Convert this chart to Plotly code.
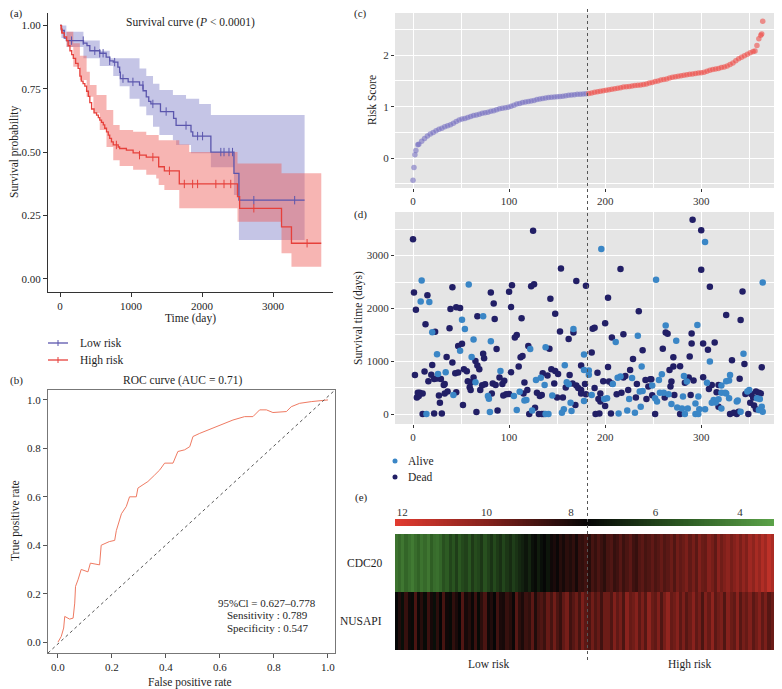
import numpy as np
import plotly.graph_objects as go

W, H = 782, 689
OFF = 8  # the page body has an 8px margin, so the figure is drawn from (8, 8)
FW, FH = W - OFF, H - OFF
FONT = "Liberation Serif"
INK = "#1e1e1e"

# ---------------- (a) Kaplan-Meier curves ----------------
km_low_time = [0, 20, 60, 90, 330, 380, 420, 560, 650, 700, 750, 815, 840, 850, 960,
               1120, 1170, 1215, 1250, 1280, 1415, 1600, 1635, 1845, 1870, 2125, 2450, 2520, 3445]
km_low_surv = [1.0, 0.98, 0.95, 0.94, 0.93, 0.92, 0.90, 0.89, 0.875, 0.86, 0.855, 0.835, 0.815, 0.79, 0.777,
               0.764, 0.742, 0.718, 0.70, 0.69, 0.66, 0.633, 0.605, 0.58, 0.563, 0.50, 0.416, 0.31, 0.31]
km_low_up_time = [0, 90, 330, 560, 700, 1120, 1215, 1310, 1400, 1590, 1775, 1960, 2125, 3445]
km_low_up = [1.0, 0.975, 0.94, 0.90, 0.87, 0.83, 0.80, 0.77, 0.745, 0.725, 0.71, 0.69, 0.646, 0.646]
km_low_lo_time = [0, 20, 93, 330, 560, 750, 840, 980, 1120, 1215, 1310, 1400, 1590, 1635, 1845,
                  2125, 2450, 2520, 3445]
km_low_lo = [1.0, 0.95, 0.915, 0.87, 0.84, 0.80, 0.76, 0.71, 0.68, 0.645, 0.60, 0.567, 0.547, 0.528, 0.495,
             0.44, 0.33, 0.153, 0.153]

km_high_time = [0, 15, 30, 60, 93, 115, 140, 165, 187, 220, 255, 280, 300, 325, 350, 375, 400, 420, 445,
                480, 515, 540, 560, 585, 610, 630, 655, 680, 700, 725, 750, 820, 840, 935, 1030, 1120,
                1215, 1390, 1470, 1680, 2500, 2530, 3120, 3260, 3680]
km_high_surv = [1.0, 0.985, 0.97, 0.955, 0.94, 0.92, 0.90, 0.885, 0.87, 0.85, 0.83, 0.80, 0.78, 0.77, 0.76,
                0.74, 0.72, 0.695, 0.67, 0.655, 0.646, 0.636, 0.626, 0.617, 0.607, 0.594, 0.58, 0.567,
                0.554, 0.54, 0.528, 0.52, 0.514, 0.508, 0.497, 0.488, 0.48, 0.442, 0.426, 0.374, 0.324,
                0.278, 0.205, 0.14, 0.14]
km_high_up_time = [0, 93, 187, 280, 375, 420, 515, 655, 750, 840, 1030, 1215, 1390, 1680, 1820, 2500, 3120, 3680]
km_high_up = [1.0, 0.975, 0.93, 0.88, 0.817, 0.765, 0.725, 0.666, 0.607, 0.587, 0.58, 0.567, 0.547, 0.53,
              0.50, 0.455, 0.416, 0.416]
km_high_lo_time = [0, 93, 187, 280, 375, 470, 560, 655, 750, 840, 1030, 1215, 1355, 1390, 1470, 1680,
                   2500, 3120, 3260, 3680]
km_high_lo = [1.0, 0.915, 0.837, 0.784, 0.718, 0.653, 0.587, 0.52, 0.468, 0.445, 0.43, 0.41, 0.396, 0.37,
              0.35, 0.278, 0.225, 0.10, 0.047, 0.047]

cens_low_time = [163, 327, 490, 560, 607, 700, 770, 887, 1027, 1168, 1308, 1495, 1775, 1938, 2008,
                 2265, 2310, 2380, 2430, 2730, 3305]
cens_low_surv = [0.94, 0.94, 0.90, 0.89, 0.89, 0.86, 0.855, 0.79, 0.777, 0.764, 0.69, 0.66, 0.605, 0.563,
                 0.563, 0.50, 0.50, 0.50, 0.50, 0.31, 0.31]
cens_high_time = [23, 794, 1120, 1308, 1541, 1751, 1868, 1938, 2195, 2310, 2405, 2730, 3480]
cens_high_surv = [0.985, 0.528, 0.488, 0.48, 0.426, 0.374, 0.374, 0.374, 0.374, 0.374, 0.374, 0.278, 0.14]

# ---------------- (b) ROC ----------------
roc_fpr = [0.0, 0.012, 0.021, 0.025, 0.043, 0.056, 0.062, 0.065, 0.074, 0.086, 0.111, 0.12, 0.154, 0.16,
           0.19, 0.21, 0.216, 0.235, 0.253, 0.265, 0.29, 0.296, 0.315, 0.333, 0.358, 0.377, 0.395, 0.426,
           0.444, 0.469, 0.488, 0.50, 0.525, 0.556, 0.586, 0.623, 0.648, 0.691, 0.722, 0.747, 0.772,
           0.796, 0.846, 0.864, 0.895, 0.938, 0.988, 1.0]
roc_tpr = [0.0, 0.023, 0.058, 0.106, 0.095, 0.099, 0.161, 0.23, 0.257, 0.30, 0.29, 0.326, 0.319, 0.40,
           0.415, 0.42, 0.46, 0.53, 0.56, 0.60, 0.60, 0.636, 0.65, 0.663, 0.69, 0.711, 0.739, 0.739,
           0.787, 0.794, 0.807, 0.849, 0.862, 0.876, 0.89, 0.904, 0.917, 0.931, 0.931, 0.959, 0.959,
           0.948, 0.952, 0.972, 0.986, 0.993, 1.0, 1.0]

# ---------------- (c) risk score ----------------
risk_cut = 182
risk_rank = [0, 1, 2, 3, 5] + list(range(6, 349, 3)) + [351, 354, 356, 358, 360, 362, 363, 364]
risk_score = [-0.43, -0.18, 0.065, 0.15, 0.26,
              0.27, 0.33, 0.38, 0.43, 0.47, 0.50, 0.53, 0.56, 0.58, 0.61,
              0.63, 0.65, 0.68, 0.71, 0.74, 0.76, 0.77, 0.79, 0.81, 0.83,
              0.84, 0.855, 0.87, 0.88, 0.89, 0.91, 0.92, 0.94, 0.96, 0.97,
              0.98, 0.99, 1.01, 1.03, 1.05, 1.06, 1.08, 1.09, 1.10, 1.11,
              1.12, 1.14, 1.15, 1.16, 1.17, 1.18, 1.185, 1.19, 1.195, 1.20,
              1.205, 1.21, 1.22, 1.225, 1.23, 1.24, 1.24, 1.245, 1.25, 1.255,
              1.265, 1.28, 1.29, 1.30, 1.31, 1.32, 1.33, 1.34, 1.35, 1.36,
              1.37, 1.38, 1.385, 1.39, 1.40, 1.41, 1.415, 1.42, 1.43, 1.44,
              1.46, 1.47, 1.49, 1.50, 1.52, 1.53, 1.54, 1.555, 1.57, 1.58,
              1.59, 1.60, 1.61, 1.62, 1.63, 1.635, 1.645, 1.655, 1.66, 1.67,
              1.69, 1.71, 1.72, 1.73, 1.74, 1.76, 1.77, 1.79, 1.82, 1.85,
              1.89, 1.93, 1.96, 1.99, 2.02,
              2.05, 2.07, 2.08, 2.19, 2.32, 2.39, 2.41, 2.66]

# ---------------- (d) survival time by patient rank ----------------
dead_rank = [0, 1, 15, 3, 41, 13, 23, 39, 45, 49, 38, 67, 81, 84, 85, 100, 103, 102, 113, 47,
             51, 87, 106, 108, 35, 41, 20, 65, 73, 74, 67, 69, 2, 12, 16, 19, 22, 25, 29, 32,
             33, 44, 47, 53, 56, 63, 57, 60, 59, 60, 70, 72, 75, 83, 86, 90, 93, 95, 102, 110,
             112, 114, 116, 5, 7, 10, 4, 6, 27, 33, 36, 28, 45, 52, 82, 94, 97, 100, 115, 10,
             22, 30, 66, 88,
             125, 154, 216, 170, 180, 123, 126, 143, 203, 148, 235, 200, 187, 189, 153, 167, 162, 207, 219, 120,
             142, 186, 239, 229, 175, 203, 144, 135, 148, 151, 140, 163, 192, 226, 219, 221, 242, 247, 147, 166,
             159, 170, 172, 175, 179, 189, 198, 204, 207, 212, 233, 245, 119, 129, 132, 134, 150, 156, 175, 180,
             195, 193, 195, 217, 224, 232, 243, 169, 200, 127, 121, 131, 134, 136, 190, 194, 206,
             291, 300, 300, 309, 343, 326, 341, 263, 265, 290, 290, 302, 314, 260, 307, 271, 288, 332, 345, 363,
             271, 278, 267, 248, 269, 287, 292, 302, 283, 311, 308, 318, 340, 268, 249, 262, 272, 289, 316, 346,
             352, 354, 351, 357, 360, 362, 355, 357, 278, 252, 318, 330, 334, 337, 339, 349]
dead_days = [3310, 2300, 2250, 1975, 2400, 1700, 1560, 1990, 2020, 2010, 1625, 1850, 2300, 2095, 1800, 2315, 2440, 2025, 1815, 1290,
             1330, 1230, 1450, 1495, 1080, 975, 930, 1005, 1140, 1055, 920, 850, 740, 805, 620, 745, 665, 675, 665, 550,
             570, 770, 785, 850, 810, 690, 620, 595, 505, 455, 455, 545, 565, 580, 550, 690, 570, 630, 790, 900,
             1075, 1100, 595, 405, 405, 390, 315, 340, 350, 390, 425, 215, 410, 170, 390, 350, 375, 380, 390, 0,
             10, 10, 40, 65,
             3470, 2755, 2745, 2520, 2430, 2420, 2460, 2185, 2200, 1900, 1945, 1720, 1615, 1635, 1565, 1545, 1420, 1450, 1510, 1290,
             1235, 1165, 1210, 1040, 920, 890, 850, 770, 815, 760, 730, 740, 780, 835, 690, 720, 645, 660, 580, 580,
             500, 540, 495, 455, 570, 495, 620, 615, 580, 375, 570, 520, 455, 405, 340, 360, 315, 315, 390, 375,
             390, 285, 235, 405, 455, 315, 285, 170, 150, 120, 0, 0, 0, 0, 0, 10, 10,
             3680, 3480, 2730, 2410, 2320, 1875, 1780, 1545, 1520, 1525, 1335, 1335, 1355, 1235, 1215, 1075, 1090, 1020, 945, 885,
             900, 905, 835, 660, 615, 690, 635, 695, 590, 550, 475, 550, 670, 520, 355, 315, 360, 360, 410, 380,
             380, 315, 215, 425, 405, 390, 160, 90, 0, 0, 140, 0, 25, 0, 45, 0]
alive_rank = [9, 8, 17, 58, 51, 54, 20, 73, 63, 49, 81, 25, 61, 26, 34, 65, 91, 42, 78, 79,
              105, 111, 116, 14, 80, 108,
              196, 167, 211, 234, 122, 138, 178, 158, 238, 133, 128, 178, 183, 183, 213, 216, 228, 137, 160, 162,
              208, 236, 239, 145, 186, 199, 202, 225, 118, 164, 178, 124, 157, 155, 165, 138, 141, 214, 223, 231,
              237,
              304, 253, 364, 263, 296, 274, 344, 309, 259, 256, 249, 282, 285, 306, 321, 326, 329, 330, 252, 254,
              257, 261, 266, 281, 297, 321, 325, 326, 313, 315, 318, 311, 329, 337, 338, 348, 350, 358, 361, 363,
              364, 360, 269, 275, 280, 286, 294, 298, 304, 283, 294, 297, 321, 341]
alive_days = [2530, 2130, 2120, 2455, 1785, 1610, 1550, 1850, 1410, 1200, 1380, 1130, 1080, 760, 790, 600, 815, 360, 340, 290,
              340, 420, 255, 0, 40, 75,
              3125, 1610, 1365, 1480, 1230, 1265, 1125, 925, 900, 685, 645, 835, 825, 745, 685, 710, 680, 550, 600, 565,
              570, 425, 435, 350, 360, 285, 300, 285, 265, 215, 245, 65, 90, 25, 55, 0, 0, 10, 65, 25,
              140,
              3260, 2545, 2490, 1675, 1685, 1390, 1140, 995, 755, 645, 540, 720, 615, 590, 540, 620, 635, 740, 300, 235,
              405, 405, 375, 330, 330, 405, 405, 390, 265, 220, 280, 215, 300, 235, 255, 425, 455, 300, 285, 140,
              45, 75, 190, 125, 105, 105, 200, 90, 90, 0, 0, 0, 105, 45]

# ---------------- (e) expression heatmap ----------------
cdc20_expr = [4.6, 4.9, 4.5, 5.0, 4.7, 4.4, 4.8, 5.1, 4.6, 4.9, 4.5, 5.2, 4.8, 4.7, 5.0,
              5.6, 5.3, 5.9, 5.5, 6.1, 5.4, 5.8, 6.0, 5.5, 6.2, 5.7, 5.9, 6.3, 5.6, 6.0, 6.4, 5.8, 6.2, 6.5, 5.9,
              6.3, 6.6, 6.1, 6.4, 6.7,
              6.9, 7.2, 6.8, 7.3, 7.5, 7.0, 7.4, 7.6, 7.2,
              7.8, 8.0, 7.7, 8.2, 7.9, 8.3, 8.1, 8.4, 7.9, 8.5,
              8.4, 8.7, 8.2, 8.8, 8.5, 8.9, 8.6, 8.3, 8.8, 9.0, 8.5, 8.7, 9.1, 8.6, 8.9, 9.2, 8.7, 8.5, 9.0, 9.2,
              8.8, 9.0, 9.3, 8.9, 9.1, 9.4, 9.0,
              9.2, 9.5, 9.0, 9.6, 9.3, 9.5, 9.8, 9.3, 9.7, 9.2, 9.9, 9.5, 9.4, 10.0, 9.7, 9.3, 10.1, 9.6,
              9.9, 10.2, 9.7, 10.0, 10.3, 9.8,
              10.3, 9.9, 10.6, 10.2, 10.8, 10.4, 11.0, 10.6, 11.3, 10.9, 11.6, 11.2]
nusapi_expr = [7.6, 8.1, 7.4, 8.5, 7.8, 7.5, 8.9, 7.7, 8.2, 7.5, 8.6, 7.9, 7.4, 8.3, 7.6, 8.8, 7.8, 7.5, 8.4, 8.0,
               7.6, 9.0, 7.9, 8.2, 7.7, 8.6, 7.5, 8.3, 8.9, 7.8, 8.1, 7.6, 8.7, 8.0, 7.9, 8.5, 8.2, 7.7, 9.1, 8.3,
               8.0, 8.6, 8.4, 9.2, 8.1, 8.8,
               9.0, 8.6, 9.4, 8.8, 9.6, 8.9, 8.5, 9.3, 9.7, 8.7, 9.1, 9.5, 8.8, 9.8, 9.2, 8.9, 9.6, 9.0, 9.4, 8.7, 9.5,
               9.5, 9.0, 9.9, 9.3, 9.7, 8.9, 10.1, 9.4, 9.6, 10.0, 9.2, 9.8, 9.1, 10.2, 9.5, 9.3, 9.9, 9.0, 9.7, 10.3,
               9.4, 9.6, 10.0, 9.2, 9.8, 9.1, 9.5, 10.1, 9.3, 9.7, 8.9, 9.9, 9.4, 10.2, 9.2, 9.6, 9.8, 9.0, 10.0, 9.5,
               9.3, 10.1, 9.1, 9.7, 9.4, 9.9, 9.2, 9.6, 10.0, 9.3, 9.8, 9.1, 9.5, 9.7, 9.4]
gene_names = ["NUSAPI", "CDC20"]
key_ticks = [12, 10, 8, 6, 4]
KEY_LO, KEY_HI = 3.05, 12.17

LOW_LINE, LOW_FILL = "#5b56ad", "rgba(102,102,189,0.38)"
HIGH_LINE, HIGH_FILL = "#e6403b", "rgba(237,91,86,0.45)"
ALIVE, DEAD = "#3a86c6", "#221f66"
EXPR_SCALE = [[0.0, "#5fa84c"], [0.25, "#2c5a22"], [0.5, "#060606"], [0.75, "#80201b"], [1.0, "#e23b30"]]


def fx(p):
    # reference pixel column -> paper fraction
    return (p - OFF) / FW


def fy(p):
    # reference pixel row -> paper fraction
    return 1 - (p - OFF) / FH


fig = go.Figure()

# (a) confidence bands then curves
for t_up, up, t_lo, lo, fc in [(km_low_up_time, km_low_up, km_low_lo_time, km_low_lo, LOW_FILL),
                               (km_high_up_time, km_high_up, km_high_lo_time, km_high_lo, HIGH_FILL)]:
    fig.add_trace(go.Scatter(x=t_up, y=up, mode="lines", line=dict(width=0, shape="hv", color="rgba(0,0,0,0)"),
                             xaxis="x", yaxis="y", showlegend=False, hoverinfo="skip"))
    fig.add_trace(go.Scatter(x=t_lo, y=lo, mode="lines", line=dict(width=0, shape="hv", color="rgba(0,0,0,0)"),
                             fill="tonexty", fillcolor=fc, xaxis="x", yaxis="y", showlegend=False, hoverinfo="skip"))
for t, s, c in [(km_low_time, km_low_surv, LOW_LINE), (km_high_time, km_high_surv, HIGH_LINE)]:
    fig.add_trace(go.Scatter(x=t, y=s, mode="lines", line=dict(width=1.3, shape="hv", color=c),
                             xaxis="x", yaxis="y", showlegend=False))
for t, s, c in [(cens_low_time, cens_low_surv, LOW_LINE), (cens_high_time, cens_high_surv, HIGH_LINE)]:
    fig.add_trace(go.Scatter(x=t, y=s, mode="markers",
                             marker=dict(symbol="line-ns", size=6, line=dict(width=1, color=c)),
                             xaxis="x", yaxis="y", showlegend=False))

# (b) ROC
fig.add_trace(go.Scatter(x=roc_fpr, y=roc_tpr, mode="lines", line=dict(width=1, color="#ef7a62"),
                         xaxis="x2", yaxis="y2", showlegend=False))

# (c) risk score
low_idx = [i for i, r in enumerate(risk_rank) if r <= risk_cut]
high_idx = [i for i, r in enumerate(risk_rank) if r > risk_cut]
for idx, c in [(low_idx, "#7670c2"), (high_idx, "#ef4f4a")]:
    fig.add_trace(go.Scatter(x=[risk_rank[i] for i in idx], y=[risk_score[i] for i in idx], mode="markers",
                             marker=dict(size=5.5, color=c, opacity=0.6, line=dict(width=0)),
                             xaxis="x3", yaxis="y3", showlegend=False))

# (d) survival status
fig.add_trace(go.Scatter(x=dead_rank, y=dead_days, mode="markers", marker=dict(size=6.5, color=DEAD),
                         xaxis="x4", yaxis="y4", showlegend=False))
fig.add_trace(go.Scatter(x=alive_rank, y=alive_days, mode="markers", marker=dict(size=6.5, color=ALIVE),
                         xaxis="x4", yaxis="y4", showlegend=False))

# (e) colour key and heatmap
key_vals = np.linspace(KEY_LO, KEY_HI, 240)
fig.add_trace(go.Heatmap(z=[key_vals], x=key_vals, colorscale=EXPR_SCALE, zmin=KEY_LO, zmax=KEY_HI,
                         showscale=False, xaxis="x5", yaxis="y5", hoverinfo="skip"))
fig.add_trace(go.Heatmap(z=[nusapi_expr, cdc20_expr], y=gene_names, colorscale=EXPR_SCALE,
                         zmin=KEY_LO, zmax=KEY_HI, showscale=False, xaxis="x6", yaxis="y6"))

TICK = dict(family=FONT, size=11, color=INK)
TICK_GG = dict(family=FONT, size=11, color="#333333")
XD = [fx(395), fx(780)]

gg_x = dict(domain=XD, range=[-18.75, 382], tick0=0, dtick=100, showgrid=True, gridcolor="white",
            gridwidth=1.2, minor=dict(dtick=50, tick0=0, showgrid=True, gridcolor="white", gridwidth=0.5),
            zeroline=False, showline=False, ticks="outside", ticklen=3, tickcolor="#333", tickfont=TICK_GG)

fig.update_layout(
    width=FW, height=FH, margin=dict(l=0, r=0, t=0, b=0),
    paper_bgcolor="white", plot_bgcolor="white",
    font=dict(family=FONT, size=11, color=INK),
    xaxis=dict(domain=[fx(48), fx(333)], range=[-169, 3845], tickvals=[0, 1000, 2000, 3000],
               showline=True, linecolor="#333", linewidth=1, ticks="outside", ticklen=4, tickcolor="#333",
               showgrid=False, zeroline=False, tickfont=TICK, anchor="y"),
    yaxis=dict(domain=[fy(292), fy(13)], range=[-0.0525, 1.049], tickvals=[0, 0.25, 0.5, 0.75, 1.0],
               tickformat=".2f", showline=True, linecolor="#333", linewidth=1, ticks="outside", ticklen=4,
               tickcolor="#333", showgrid=False, zeroline=False, tickfont=TICK, anchor="x"),
    xaxis2=dict(domain=[fx(48), fx(335)], range=[-0.037, 1.026], tickvals=[0, 0.2, 0.4, 0.6, 0.8, 1.0],
                tickformat=".1f", showline=True, mirror=True, linecolor="#777", ticks="outside", ticklen=4,
                tickcolor="#555", showgrid=False, zeroline=False, tickfont=TICK, anchor="y2"),
    yaxis2=dict(domain=[fy(653), fy(390)], range=[-0.045, 1.041], tickvals=[0, 0.2, 0.4, 0.6, 0.8, 1.0],
                tickformat=".1f", showline=True, mirror=True, linecolor="#777", ticks="outside", ticklen=4,
                tickcolor="#555", showgrid=False, zeroline=False, tickfont=TICK, anchor="x2"),
    xaxis3=dict(gg_x, anchor="y3"),
    yaxis3=dict(domain=[fy(188), fy(13)], range=[-0.58, 2.82], tick0=0, dtick=1, showgrid=True,
                gridcolor="white", gridwidth=1.2,
                minor=dict(dtick=0.5, tick0=0, showgrid=True, gridcolor="white", gridwidth=0.5),
                zeroline=False, ticks="outside", ticklen=3, tickcolor="#333", tickfont=TICK_GG, anchor="x3"),
    xaxis4=dict(gg_x, anchor="y4"),
    yaxis4=dict(domain=[fy(424), fy(212)], range=[-189, 3826], tick0=0, dtick=1000, showgrid=True,
                gridcolor="white", gridwidth=1.2,
                minor=dict(dtick=500, tick0=0, showgrid=True, gridcolor="white", gridwidth=0.5),
                zeroline=False, ticks="outside", ticklen=3, tickcolor="#333", tickfont=TICK_GG, anchor="x4"),
    xaxis5=dict(domain=XD, range=[KEY_HI, KEY_LO], side="top", tickvals=key_ticks, ticks="",
                showgrid=False, zeroline=False, showline=False, tickfont=TICK_GG, anchor="y5"),
    yaxis5=dict(domain=[fy(526), fy(519)], visible=False, anchor="x5"),
    xaxis6=dict(domain=XD, range=[-0.5, len(cdc20_expr) - 0.5], visible=False, anchor="y6"),
    yaxis6=dict(domain=[fy(650), fy(534)], visible=False, range=[-0.5, 1.5], anchor="x6"),
)

shapes = []
for ax in ["3", "4"]:
    shapes.append(dict(type="rect", xref=f"x{ax} domain", yref=f"y{ax} domain", x0=0, x1=1, y0=0, y1=1,
                       fillcolor="#e5e5e5", line=dict(width=0), layer="below"))
shapes.append(dict(type="line", xref="x2 domain", yref="y2 domain", x0=0, y0=0, x1=1, y1=1,
                   line=dict(color="#555", width=1, dash="dot")))
shapes.append(dict(type="line", xref="paper", yref="paper", x0=fx(587.5), x1=fx(587.5), y0=fy(660), y1=1,
                   line=dict(color="#555", width=1, dash="dot"), layer="above"))
# legend of (a)
for py, c in [(343, LOW_LINE), (360, HIGH_LINE)]:
    shapes.append(dict(type="line", xref="paper", yref="paper", x0=fx(48), x1=fx(68), y0=fy(py), y1=fy(py),
                       line=dict(color=c, width=1.3)))
    shapes.append(dict(type="line", xref="paper", yref="paper", x0=fx(58), x1=fx(58), y0=fy(py - 3),
                       y1=fy(py + 3), line=dict(color=c, width=1)))
# legend of (d)
for py, c in [(461, ALIVE), (477, DEAD)]:
    shapes.append(dict(type="circle", xref="paper", yref="paper", x0=fx(392.5), x1=fx(397.5),
                       y0=fy(py + 2.5), y1=fy(py - 2.5), fillcolor=c, line=dict(width=0)))


def ann(text, x, y, xa="center", size=11, angle=0, color=INK):
    return dict(text=text, x=fx(x), y=fy(y), xref="paper", yref="paper", xanchor=xa, yanchor="middle",
                showarrow=False, textangle=angle, font=dict(family=FONT, size=size, color=color))


annotations = [
    ann("(a)", 8, 14, xa="left"),
    ann("Survival curve (<i>P</i> &lt; 0.0001)", 190, 23, size=11.5),
    ann("Time (day)", 190, 318, size=11.5),
    ann("Survival probability", 15, 152, size=11.5, angle=-90),
    ann("Low risk", 78, 343, xa="left", size=11.5),
    ann("High risk", 78, 360, xa="left", size=11.5),
    ann("(b)", 8, 380, xa="left"),
    ann("ROC curve (AUC = 0.71)", 182, 380, size=11.5),
    ann("True positive rate", 15, 521, size=11.5, angle=-90),
    ann("False positive rate", 190, 682, size=11.5),
    ann("95%Cl = 0.627\u20130.778", 267, 603),
    ann("Sensitivity : 0.789", 267, 615),
    ann("Specificity : 0.547", 267, 628),
    ann("(c)", 352, 14, xa="left"),
    ann("Risk Score", 372, 100, size=11.5, angle=-90),
    ann("(d)", 352, 215, xa="left"),
    ann("Survival time (days)", 358, 318, size=11.5, angle=-90),
    ann("Alive", 406, 461, xa="left", size=11.5),
    ann("Dead", 406, 477, xa="left", size=11.5),
    ann("(e)", 353, 497, xa="left"),
    ann("CDC20", 384, 563, xa="right", size=11.5),
    ann("NUSAPI", 384, 621, xa="right", size=11.5),
    ann("Low risk", 488, 664, size=11.5),
    ann("High risk", 689, 664, size=11.5),
]
fig.update_layout(shapes=shapes, annotations=annotations)

fig.write_html("out.html")
